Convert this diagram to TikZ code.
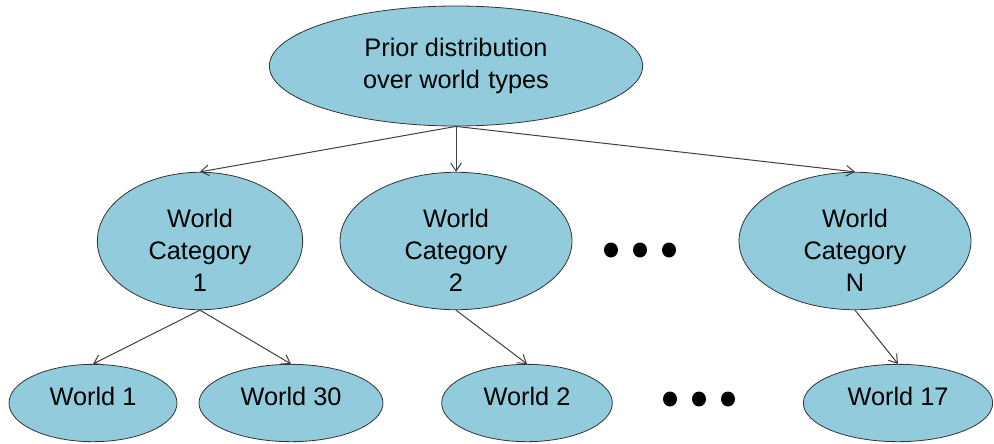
\documentclass[tikz,border=0pt]{standalone}
\usepackage{fontspec}
\setmainfont{Liberation Sans}
\usepackage{tikz}
\usetikzlibrary{arrows.meta,shapes.geometric}
\usepackage{xcolor}
\definecolor{aqua}{RGB}{146,204,220}
% three lines, set a little below the middle of the ellipse
\newcommand{\lowstack}[1]{\raisebox{-9pt}[\height][\depth]{\begin{tabular}{@{}c@{}}#1\end{tabular}}}

\begin{document}
\begin{tikzpicture}[
        x=0.75pt,y=-0.75pt,
        blob/.style={ellipse,draw=black!80,line width=0.6pt,fill=aqua,inner sep=0pt,align=center,
          font=\fontsize{19}{24.3}\selectfont},
        catblob/.style={blob,minimum height=96pt},
        link/.style={draw=black!75,line width=0.75pt,-{Straight Barb[length=6pt,width=8pt]}}
      ]
      \useasboundingbox (0,0) rectangle (994,443);
      \node[blob,minimum width=280pt,minimum height=90pt] (prior) at (456,66) {Prior distribution\\over world\,\,types};

      \node[catblob,minimum width=154pt] (cat1) at (200,241) {\lowstack{World\\Category\\1}};
      \node[catblob,minimum width=174pt] (cat2) at (456,241) {\lowstack{World\\Category\\2}};
      \node[catblob,minimum width=174pt] (catn) at (855,241) {\lowstack{World\\Category\\N}};

      \node[blob,minimum width=126pt,minimum height=58pt] (w1) at (93,403) {World 1\\[-15pt]\mbox{}};
      \node[blob,minimum width=138pt,minimum height=58pt] (w30) at (291,403) {World 30\\[-15pt]\mbox{}};
      \node[blob,minimum width=128pt,minimum height=58pt] (w2) at (527,403) {World 2\\[-15pt]\mbox{}};
      \node[blob,minimum width=142pt,minimum height=58pt] (w17) at (898,403) {World 17\\[-15pt]\mbox{}};

      % dots between the columns
      \foreach \dx in {611,640,669} \fill[black] (\dx,250) ellipse [x radius=7,y radius=7.5];
      \foreach \dx in {670,699,728} \fill[black] (\dx,399) ellipse [x radius=7,y radius=7.5];

      \draw[link] (prior.south) -- (cat1.north);
      \draw[link] (prior.south) -- (cat2.north);
      \draw[link] (prior.south) -- (catn.north);
      \draw[link] (cat1.south) -- (w1.north);
      \draw[link] (cat1.south) -- (w30.north);
      \draw[link] (cat2.south) -- (w2.north);
      \draw[link] (catn.south) -- (w17.north);
    \end{tikzpicture}
\end{document}
